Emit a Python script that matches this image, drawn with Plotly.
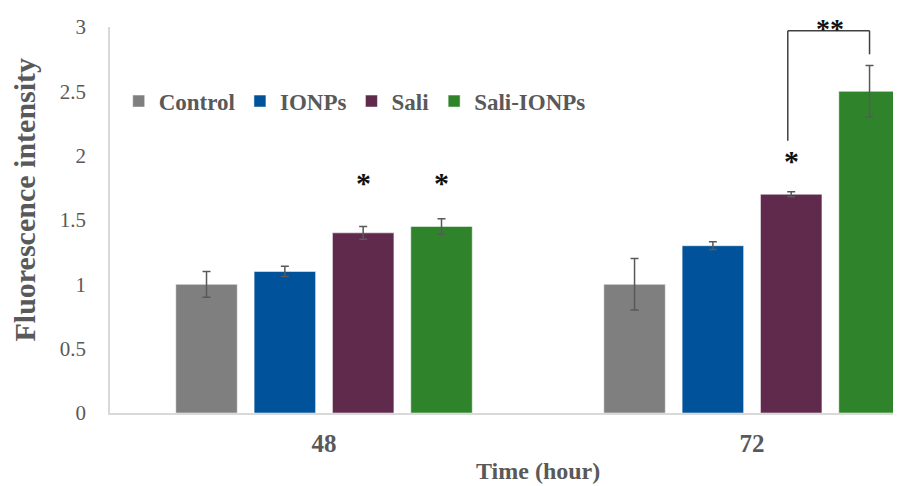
import plotly.graph_objects as go

# ---- data ----
time_labels = ["48", "72"]
series_names = ["Control", "IONPs", "Sali", "Sali-IONPs"]
control = [1.0, 1.0]
ionps = [1.1, 1.3]
sali = [1.4, 1.7]
sali_ionps = [1.45, 2.5]
control_err = [0.10, 0.20]
ionps_err = [0.04, 0.03]
sali_err = [0.05, 0.02]
sali_ionps_err = [0.06, 0.20]
y_ticks = [0, 0.5, 1, 1.5, 2, 2.5, 3]

colors = ["#7f7f7f", "#00539a", "#5f2a4c", "#2f842b"]
values = [control, ionps, sali, sali_ionps]
errors = [control_err, ionps_err, sali_err, sali_ionps_err]

FONT = "Liberation Serif, Times New Roman, serif"
GREY = "#595959"
BARGAP = 0.268
BARGROUPGAP = 0.215
slot = (1 - BARGAP) / 4
xpos = list(range(len(time_labels)))

fig = go.Figure()
for name, vals, errs, col in zip(series_names, values, errors, colors):
    fig.add_trace(go.Bar(
        x=xpos, y=vals, name=name,
        marker=dict(color=col, line=dict(color="rgba(255,255,255,0.5)", width=1)),
        error_y=dict(type="data", array=errs, visible=True,
                     color=GREY, thickness=1.5, width=4),
    ))

def off(i):
    return (i - 1.5) * slot

annotations = []
# significance stars
star_font = dict(family=FONT, size=30, color="#111111", weight="bold")
annotations.append(dict(x=0 + off(2), y=1.81, xref="x", yref="y", text="*",
                        showarrow=False, font=star_font, yanchor="middle", yshift=-2))
annotations.append(dict(x=0 + off(3), y=1.81, xref="x", yref="y", text="*",
                        showarrow=False, font=star_font, yanchor="middle", yshift=-2))
annotations.append(dict(x=1 + off(2), y=1.98, xref="x", yref="y", text="*",
                        showarrow=False, font=star_font, yanchor="middle", yshift=-2))
annotations.append(dict(x=1 + (off(2) + off(3)) / 2, y=1.04, xref="x", yref="paper",
                        text="**", showarrow=False,
                        font=dict(family=FONT, size=28, color="#111111", weight="bold"),
                        yanchor="top", borderpad=0))

# axis titles
annotations.append(dict(x=-0.108, y=0.552, xref="paper", yref="paper",
                        text="Fluorescence intensity", textangle=-90, showarrow=False,
                        font=dict(family=FONT, size=30, color=GREY, weight="bold"),
                        xanchor="center", yanchor="middle"))
annotations.append(dict(x=0.5, y=-0.189, xref="x", yref="paper",
                        text="Time (hour)", showarrow=False,
                        font=dict(family=FONT, size=24, color=GREY, weight="bold"),
                        xanchor="center", yanchor="bottom"))

# bracket
bx0 = 1 + off(2) - 0.008
bx1 = 1 + off(3)
shapes = [
    dict(type="line", xref="x", yref="y", x0=bx0, x1=bx0, y0=2.116, y1=2.971,
         line=dict(color="#404040", width=1.5)),
    dict(type="line", xref="x", yref="y", x0=bx0, x1=bx1, y0=2.971, y1=2.971,
         line=dict(color="#404040", width=1.5)),
    dict(type="line", xref="x", yref="y", x0=bx1, x1=bx1, y0=2.971, y1=2.788,
         line=dict(color="#404040", width=1.5)),
]

fig.update_layout(
    width=893, height=478,
    margin=dict(l=102, r=0, t=19, b=73),
    paper_bgcolor="white", plot_bgcolor="white",
    barmode="group", bargap=BARGAP, bargroupgap=BARGROUPGAP,
    font=dict(family=FONT, color=GREY),
    showlegend=True,
    legend=dict(orientation="h", x=0.011, y=0.808, xanchor="left", yanchor="middle",
                font=dict(family=FONT, size=23, color=GREY, weight="bold"),
                bgcolor="rgba(0,0,0,0)", itemclick=False),
    annotations=annotations,
    shapes=shapes,
    xaxis=dict(range=[-0.5, 1.348], tickvals=xpos, ticktext=time_labels,
               showline=True, linecolor="#d9d9d9", linewidth=1.5,
               showgrid=False, zeroline=False, ticks="",
               tickfont=dict(family=FONT, size=25, color=GREY, weight="bold"),
               ticklabelstandoff=7),
    yaxis=dict(range=[0, 3], tickvals=y_ticks,
               showline=True, linecolor="#d9d9d9", linewidth=1.5,
               showgrid=False, zeroline=False, ticks="",
               tickfont=dict(family=FONT, size=21, color=GREY),
               ticklabelstandoff=18),
)

fig.write_html("out.html")
